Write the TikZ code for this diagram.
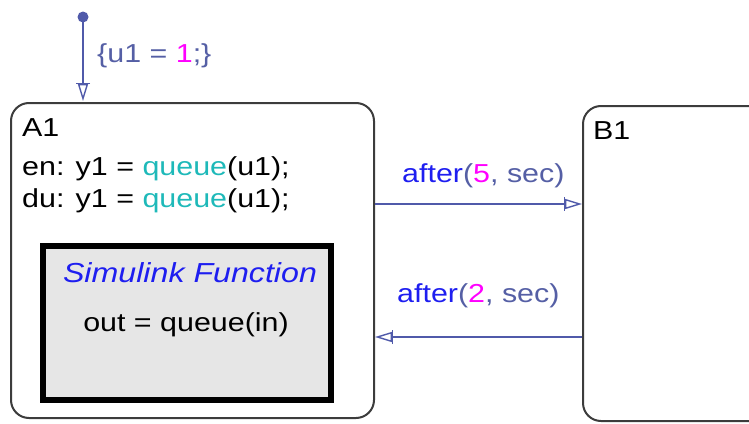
\documentclass[tikz,border=0pt]{standalone}
\usepackage{fontspec}
\setmainfont{Liberation Sans}[FakeStretch=1.17]
\usetikzlibrary{arrows.meta}
\definecolor{linecol}{RGB}{80,90,170}
\definecolor{slate}{RGB}{85,95,165}
\definecolor{kwblue}{RGB}{30,30,240}
\definecolor{mag}{RGB}{255,0,255}
\definecolor{teal2}{RGB}{30,185,185}
\definecolor{border}{RGB}{60,60,60}
\definecolor{fngray}{RGB}{230,230,230}
\tikzset{
  statebox/.style={draw=border,line width=2pt,rounded corners=18pt,inner sep=0pt},
  txt/.style={anchor=base west,inner sep=0pt,font=\fontsize{26}{31}\selectfont},
  ctxt/.style={anchor=base,inner sep=0pt,font=\fontsize{26}{31}\selectfont},
  sfarrow/.style={draw=linecol,line width=1.2pt,-{Bar[width=14pt,line width=1.4pt]Triangle[open,length=17pt,width=10pt,line width=1.4pt]}},
}
\begin{document}
\begin{tikzpicture}[x=1pt,y=-1pt]
\useasboundingbox (0,0) rectangle (749,423);
% states
\node[statebox,minimum width=363pt,minimum height=315pt] (A1) at (192.5,260.5) {};
\node[statebox,minimum width=184pt,minimum height=315pt] (B1) at (675,263.5) {};
% simulink function box
\node[draw=black,line width=6pt,fill=fngray,minimum width=288pt,minimum height=154pt,inner sep=0pt] (SF) at (187,323) {};
% texts
\node[txt] (A1name) at (22,136) {A1};
\node[txt] (A1en) at (22,175) {en: y1 = \textcolor{teal2}{queue}(u1);};
\node[txt] (A1du) at (22,207) {du: y1 = \textcolor{teal2}{queue}(u1);};
\node[txt] (B1name) at (593,139) {B1};
\node[ctxt,text=kwblue,font=\fontsize{27.5}{32}\selectfont\itshape] (SFtitle) at (190,282) {Simulink Function};
\node[ctxt] (SFbody) at (186,331) {out = queue(in)};
% default transition
\node[circle,fill=linecol,inner sep=0pt,minimum size=11pt] (dot) at (83,17) {};
\coordinate (dtEnd) at (83,101);
\draw[sfarrow] (dot.center) -- (dtEnd);
\node[txt,text=slate] (dtlab) at (97,62) {\{u1 = \textcolor{mag}{1};\}};
% transitions
\coordinate (yUp) at (0,204);
\coordinate (yLo) at (0,337);
\draw[sfarrow] (A1.east |- yUp) -- (B1.west |- yUp);
\draw[sfarrow] (B1.west |- yLo) -- (A1.east |- yLo);
\node[txt,text=slate] (t1lab) at (402,182) {\textcolor{kwblue}{after}(\textcolor{mag}{5}, sec)};
\node[txt,text=slate] (t2lab) at (397,302) {\textcolor{kwblue}{after}(\textcolor{mag}{2}, sec)};
\end{tikzpicture}
\end{document}
